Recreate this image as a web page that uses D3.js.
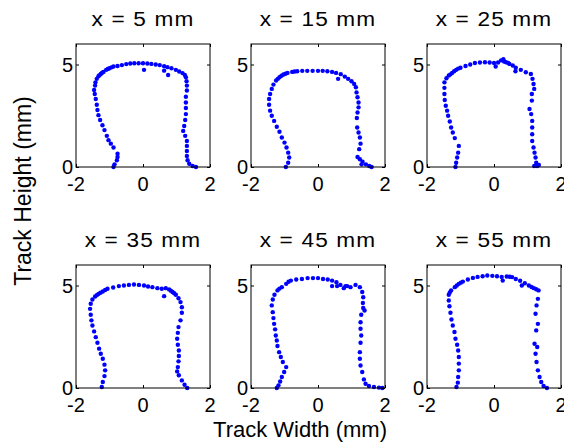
<!DOCTYPE html>
<html>
<head>
<meta charset="utf-8">
<script src="https://cdn.jsdelivr.net/npm/d3@7"></script>
<style>
  body { margin: 0; background: #fff; }
  text { font-family: "Liberation Sans", Arial, sans-serif; fill: #000; }
</style>
</head>
<body>
<svg id="paper"></svg>
<script>
// cross sections of the track, [width, height] in mm
let track5 = [[-0.88,0],[-0.85,0.13],[-0.78,0.33],[-0.76,0.49],[-0.76,0.65],[-0.88,0.95],[-0.96,1.14],[-1.03,1.31],[-1.08,1.52],[-1.15,1.8],[-1.21,2.04],[-1.28,2.29],[-1.33,2.53],[-1.36,2.78],[-1.38,3.04],[-1.41,3.32],[-1.44,3.56],[-1.46,3.76],[-1.43,3.97],[-1.42,4.13],[-1.38,4.3],[-1.33,4.43],[-1.26,4.54],[-1.18,4.64],[-1.1,4.74],[-1.0,4.82],[-0.88,4.9],[-0.76,4.93],[-0.63,4.97],[-0.5,5.02],[-0.38,5.05],[-0.26,5.06],[-0.13,5.06],[0,5.06],[0.13,5.05],[0.25,5.03],[0.38,5.0],[0.5,4.97],[0.63,4.92],[0.73,4.87],[0.85,4.82],[0.98,4.74],[1.08,4.66],[1.18,4.58],[1.25,4.49],[1.28,4.38],[1.3,4.18],[1.31,3.97],[1.31,3.73],[1.28,3.43],[1.28,3.15],[1.28,2.88],[1.28,2.58],[1.26,2.29],[1.23,2.0],[1.2,1.76],[1.26,1.52],[1.31,1.27],[1.31,1.03],[1.31,0.78],[1.31,0.54],[1.33,0.33],[1.38,0.16],[1.48,0.05],[1.58,0],[0.03,4.74],[0.75,4.49],[0.63,4.7],[-1.3,4.48],[-1.22,4.6],[-1.05,4.78],[-0.94,4.86]];
let track15 = [[-0.96,0],[-0.89,0.21],[-0.86,0.46],[-0.89,0.7],[-0.94,0.95],[-1.0,1.19],[-1.08,1.44],[-1.15,1.72],[-1.23,1.96],[-1.31,2.25],[-1.38,2.5],[-1.43,2.75],[-1.46,3.04],[-1.46,3.32],[-1.43,3.56],[-1.38,3.81],[-1.33,4.02],[-1.25,4.22],[-1.15,4.38],[-1.03,4.51],[-0.91,4.59],[-0.77,4.64],[-0.62,4.67],[-0.47,4.69],[-0.32,4.69],[-0.16,4.69],[0,4.69],[0.14,4.69],[0.28,4.67],[0.42,4.64],[0.54,4.59],[0.68,4.53],[0.8,4.41],[0.9,4.3],[1.0,4.18],[1.08,4.05],[1.13,3.89],[1.15,3.64],[1.18,3.4],[1.21,3.15],[1.21,2.91],[1.18,2.66],[1.16,2.39],[1.17,1.93],[1.21,1.68],[1.25,1.44],[1.27,1.14],[1.23,0.87],[1.18,0.49],[1.25,0.38],[1.33,0.26],[1.43,0.13],[1.53,0.05],[1.6,0],[1.3,0.13],[0.6,4.3],[-1.2,4.3],[-1.09,4.45],[-0.97,4.55],[-0.7,4.66]];
let track25 = [[-1.15,0],[-1.13,0.21],[-1.1,0.46],[-1.07,0.7],[-1.05,1.03],[-1.17,1.41],[-1.23,1.68],[-1.28,1.93],[-1.32,2.22],[-1.37,2.5],[-1.4,2.75],[-1.44,2.99],[-1.47,3.27],[-1.48,3.56],[-1.48,3.86],[-1.48,4.13],[-1.42,4.33],[-1.35,4.46],[-1.25,4.59],[-1.13,4.74],[-1.0,4.84],[-0.85,4.93],[-0.71,5.0],[-0.57,5.07],[-0.42,5.1],[-0.27,5.11],[-0.13,5.1],[0,5.07],[0.12,5.1],[0.21,5.2],[0.28,5.26],[0.36,5.11],[0.46,5.03],[0.56,4.95],[0.65,4.84],[0.8,4.74],[0.95,4.62],[1.1,4.54],[1.15,4.3],[1.18,4.05],[1.2,3.81],[1.13,3.56],[1.13,3.24],[1.06,2.83],[1.11,2.58],[1.14,2.25],[1.14,1.93],[1.14,1.6],[1.14,1.27],[1.18,0.95],[1.21,0.7],[1.24,0.46],[1.26,0.21],[1.2,0.05],[1.29,0.05],[1.34,0.1],[0.05,4.9],[0.64,4.67],[0.3,5.15],[0.42,5.08],[-1.3,4.52],[-1.19,4.67],[-1.07,4.8]];
let track35 = [[-1.23,0.05],[-1.2,0.29],[-1.15,0.58],[-1.13,0.86],[-1.15,1.14],[-1.2,1.43],[-1.26,1.67],[-1.31,1.92],[-1.36,2.21],[-1.41,2.48],[-1.46,2.76],[-1.51,3.05],[-1.54,3.3],[-1.56,3.57],[-1.58,3.86],[-1.56,4.11],[-1.51,4.32],[-1.43,4.46],[-1.33,4.59],[-1.2,4.71],[-1.06,4.84],[-0.89,4.9],[-0.72,4.97],[-0.57,5.0],[-0.42,5.03],[-0.27,5.05],[-0.12,5.03],[0.03,5.0],[0.15,4.95],[0.28,4.92],[0.43,4.87],[0.56,4.84],[0.68,4.87],[0.78,4.81],[0.88,4.68],[0.98,4.55],[1.06,4.38],[1.12,4.19],[1.16,3.94],[1.16,3.67],[1.12,3.3],[1.06,2.97],[1.04,2.69],[1.02,2.4],[1.04,2.11],[1.07,1.83],[1.07,1.56],[1.06,1.3],[1.04,1.02],[1.02,0.81],[1.07,0.62],[1.16,0.37],[1.24,0.16],[1.32,0],[0.63,4.48],[-1.38,4.53],[-1.27,4.65],[-1.13,4.78],[0.83,4.75],[0.93,4.62]];
let track45 = [[-1.23,0],[-1.18,0.13],[-1.13,0.32],[-1.08,0.54],[-1.01,0.78],[-0.95,1.02],[-1.05,1.27],[-1.11,1.51],[-1.16,1.75],[-1.21,2.05],[-1.23,2.32],[-1.26,2.56],[-1.28,2.86],[-1.31,3.13],[-1.33,3.41],[-1.35,3.7],[-1.38,4.03],[-1.35,4.32],[-1.3,4.55],[-1.21,4.76],[-1.08,4.92],[-0.95,5.08],[-0.81,5.24],[-0.65,5.29],[-0.48,5.32],[-0.31,5.36],[-0.15,5.36],[0,5.36],[0.15,5.32],[0.29,5.29],[0.42,5.24],[0.55,5.16],[0.67,5.03],[0.82,4.97],[0.97,4.92],[1.12,5.03],[1.25,4.92],[1.32,4.68],[1.35,4.43],[1.35,3.9],[1.29,3.57],[1.27,3.21],[1.27,2.89],[1.29,2.56],[1.27,2.21],[1.25,1.75],[1.25,1.43],[1.27,1.1],[1.32,0.78],[1.37,0.42],[1.42,0.21],[1.52,0.1],[1.67,0.05],[1.82,0.02],[1.92,0],[0.42,4.97],[0.57,4.97],[0.77,4.87],[0.87,4.97],[1.39,3.78],[1.34,4.15],[-0.88,5.18],[-1.15,4.85]];
let track55 = [[-1.12,0.05],[-1.08,0.26],[-1.07,0.54],[-1.05,0.86],[-1.05,1.19],[-1.05,1.51],[-1.07,1.83],[-1.1,2.11],[-1.15,2.4],[-1.18,2.73],[-1.23,3.05],[-1.27,3.34],[-1.3,3.67],[-1.33,3.99],[-1.35,4.27],[-1.35,4.55],[-1.28,4.76],[-1.17,4.92],[-1.05,5.08],[-0.93,5.19],[-0.78,5.29],[-0.63,5.37],[-0.49,5.42],[-0.34,5.45],[-0.2,5.49],[-0.05,5.47],[0.09,5.45],[0.23,5.42],[0.38,5.44],[0.54,5.41],[0.65,5.32],[0.78,5.23],[0.92,5.11],[1.04,5.0],[1.19,4.87],[1.33,4.76],[1.31,4.35],[1.27,4.03],[1.24,3.62],[1.31,3.13],[1.26,2.81],[1.21,2.16],[1.29,2.0],[1.24,1.67],[1.27,1.27],[1.31,0.86],[1.36,0.54],[1.41,0.29],[1.48,0.1],[1.58,0],[0.26,5.24],[0.83,5.0],[1.26,4.82],[-1.32,4.66],[-1.11,5.0],[-0.99,5.14],[0.47,5.43],[1.12,4.93]];

let panels = [track5, track15, track25, track35, track45, track55];
let titles = ["x = 5 mm", "x = 15 mm", "x = 25 mm", "x = 35 mm", "x = 45 mm", "x = 55 mm"];
let xTicks = [-2, 0, 2];
let yTicks = [0, 5];

let W = 564, H = 446;
let colLeft = [76, 251, 427],
    rowTop = [44, 265],
    pw = 134, ph = 123;

let svg = d3.select("#paper")
    .attr("width", W)
    .attr("height", H);

let x = d3.scaleLinear().domain([-2, 2]).range([0, pw]);
let y = d3.scaleLinear().domain([0, 6]).range([ph, 0]);

panels.forEach((pts, i) => {
    let g = svg.append("g")
        .attr("transform", "translate(" + colLeft[i % 3] + "," + rowTop[Math.floor(i / 3)] + ")");

    g.selectAll(".dot")
        .data(pts)
        .enter()
        .append("circle")
        .classed("dot", true)
        .attr("cx", d => x(d[0]))
        .attr("cy", d => y(d[1]))
        .attr("r", 2.2)
        .attr("fill", "#0000ff");

    // box with inward ticks on all four sides
    g.append("rect")
        .attr("x", 0).attr("y", 0)
        .attr("width", pw).attr("height", ph)
        .attr("fill", "none")
        .attr("stroke", "#000")
        .attr("stroke-width", 1);

    let bottom = d3.axisBottom(x).tickValues(xTicks).tickSizeInner(-3).tickSizeOuter(0).tickFormat("");
    let top = d3.axisTop(x).tickValues(xTicks).tickSizeInner(-3).tickSizeOuter(0).tickFormat("");
    let left = d3.axisLeft(y).tickValues(yTicks).tickSizeInner(-3).tickSizeOuter(0).tickFormat("");
    let right = d3.axisRight(y).tickValues(yTicks).tickSizeInner(-3).tickSizeOuter(0).tickFormat("");
    g.append("g").attr("transform", "translate(0," + ph + ")").call(bottom);
    g.append("g").call(top);
    g.append("g").call(left);
    g.append("g").attr("transform", "translate(" + pw + ",0)").call(right);
    g.selectAll(".domain").remove();
    g.selectAll(".tick line").attr("stroke", "#000");

    g.selectAll(".xlab")
        .data(xTicks)
        .enter()
        .append("text")
        .attr("x", d => x(d))
        .attr("y", ph + 24)
        .style("font-size", "20px")
        .style("text-anchor", "middle")
        .text(d => d);

    g.selectAll(".ylab")
        .data(yTicks)
        .enter()
        .append("text")
        .attr("x", -3)
        .attr("y", d => y(d))
        .attr("dy", "0.36em")
        .style("font-size", "20px")
        .style("text-anchor", "end")
        .text(d => d);

    // titles come out wide in the original, stretch them a little
    g.append("text")
        .attr("transform", "translate(" + (pw / 2) + ",-18) scale(1.16,1)")
        .style("font-size", "19.5px")
        .style("letter-spacing", "1px")
        .style("text-anchor", "middle")
        .text(titles[i]);
});

svg.append("text")
    .attr("transform", "translate(31,191) rotate(-90)")
    .style("font-size", "23px")
    .style("text-anchor", "middle")
    .text("Track Height (mm)");

svg.append("text")
    .attr("x", 300)
    .attr("y", 437)
    .style("font-size", "22px")
    .style("text-anchor", "middle")
    .text("Track Width (mm)");
</script>
</body>
</html>
